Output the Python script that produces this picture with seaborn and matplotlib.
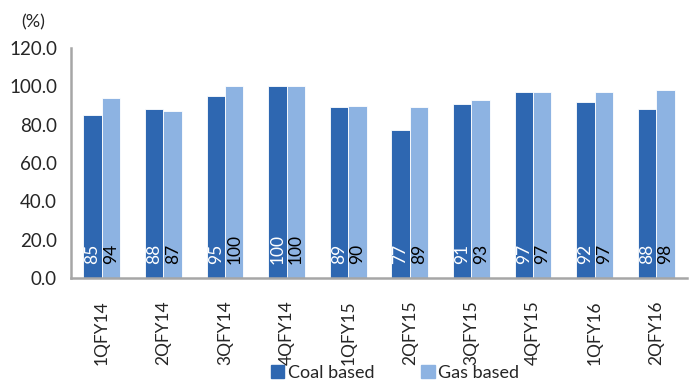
import matplotlib
matplotlib.use("Agg")
import matplotlib.pyplot as plt
import seaborn as sns
import pandas as pd
import numpy as np
from matplotlib.ticker import FixedLocator

sns.set_style("white")
plt.rcParams["font.family"] = ["Lato", "DejaVu Sans"]

quarters = ["1QFY14", "2QFY14", "3QFY14", "4QFY14", "1QFY15",
            "2QFY15", "3QFY15", "4QFY15", "1QFY16", "2QFY16"]
coal_based = [85, 88, 95, 100, 89, 77, 91, 97, 92, 88]
gas_based = [94, 87, 100, 100, 90, 89, 93, 97, 97, 98]
series_names = ["Coal based", "Gas based"]
colors = ["#2E67B1", "#8DB3E2"]
label_colors = ["white", "black"]

df = pd.DataFrame({
    "quarter": quarters * 2,
    "value": coal_based + gas_based,
    "type": [series_names[0]] * len(quarters) + [series_names[1]] * len(quarters),
})

fig = plt.figure(figsize=(6.99, 3.81), dpi=100)
ax = fig.add_axes([71 / 699, 1 - 278 / 381, (687 - 71) / 699, (278 - 48) / 381])

sns.barplot(data=df, x="quarter", y="value", hue="type", order=quarters,
            hue_order=series_names, palette=colors, width=0.6, gap=0.0,
            saturation=1, edgecolor="white", linewidth=0.6, ax=ax)

for cont, col in zip(ax.containers, label_colors):
    for bar in cont:
        h = bar.get_height()
        ax.text(bar.get_x() + bar.get_width() / 2, 7.5, f"{h:.0f}",
                rotation=90, ha="center", va="bottom", color=col, fontsize=12.5)

ax.set_ylim(0, 120)
ax.set_yticks(np.arange(0, 121, 20))
ax.set_yticklabels([f"{v:.1f}" for v in np.arange(0, 121, 20)], fontsize=13.5)
ax.set_xlim(-0.5, len(quarters) - 0.5)
ax.set_xticks(range(len(quarters)))
ax.set_xticklabels(quarters, rotation=90, fontsize=12.5)
ax.xaxis.set_minor_locator(FixedLocator(np.arange(-0.5, len(quarters), 1.0)))
ax.tick_params(axis="x", which="major", length=0, pad=16)
ax.tick_params(axis="x", which="minor", length=5, color="#A6A6A6", width=1.2, direction="out")
ax.tick_params(axis="y", length=5, color="#A6A6A6", width=1.2, direction="out", pad=5)

ax.set_xlabel("")
ax.set_ylabel("")
for s in ["top", "right"]:
    ax.spines[s].set_visible(False)
for s in ["left", "bottom"]:
    ax.spines[s].set_color("#A6A6A6")
    ax.spines[s].set_linewidth(1.8)

fig.text(21 / 699, 1 - 22 / 381, "(%)", fontsize=13, va="center", ha="left")

ax.legend_.remove()
handles = [plt.Rectangle((0, 0), 1, 1, color=c) for c in colors]
fig.legend(handles, series_names, loc="center", bbox_to_anchor=(0.565, 1 - 373 / 381),
           ncol=2, frameon=False, fontsize=13, handlelength=0.75, handleheight=0.75,
           handletextpad=0.2, columnspacing=2.6, borderaxespad=0)

fig.savefig("out.png", dpi=100)
